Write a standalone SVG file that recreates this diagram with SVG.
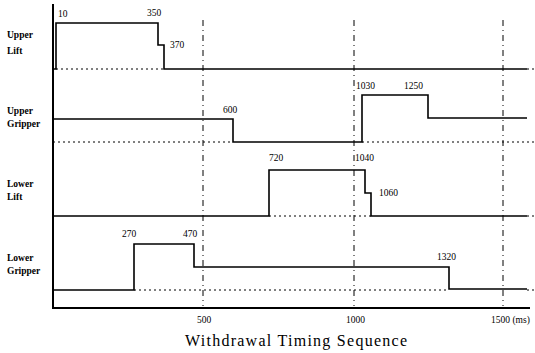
<svg xmlns="http://www.w3.org/2000/svg" width="535" height="353" viewBox="0 0 535 353">
<style>
.sig{fill:none;stroke:#000;stroke-width:1.6}
.base{fill:none;stroke:#000;stroke-width:1;stroke-dasharray:2 3}
.grid{fill:none;stroke:#000;stroke-width:1;stroke-dasharray:6 4 1 4}
.axis{fill:none;stroke:#000;stroke-width:2}
.lbl{font-family:"Liberation Serif",serif;font-size:9.5px;font-weight:bold;fill:#000}
.num{font-family:"Liberation Serif",serif;font-size:9.5px;fill:#000}
.title{font-family:"Liberation Serif",serif;font-size:16px;fill:#000}
</style>
<rect width="535" height="353" fill="#fff"/>
<g id="connectors">
<line class="grid" x1="203" y1="20" x2="203" y2="306"/>
<line class="grid" x1="354" y1="20" x2="354" y2="306"/>
<line class="grid" x1="503" y1="20" x2="503" y2="306"/>
<line class="axis" x1="53" y1="4" x2="53" y2="309"/>
<line class="axis" x1="53" y1="308" x2="530" y2="308"/>
</g>
<g id="upper-lift">
<text class="lbl" x="7" y="38">Upper</text>
<text class="lbl" x="7" y="54">Lift</text>
<line class="base" x1="56" y1="69" x2="164" y2="69"/>
<line class="base" x1="527" y1="69" x2="535" y2="69"/>
<polyline class="sig" points="53,69 56,69 56,23 158,23 158,45 164,45 164,69 527,69"/>
<text class="num" x="58" y="17">10</text>
<text class="num" x="147" y="16">350</text>
<text class="num" x="170" y="48">370</text>
</g>
<g id="upper-gripper">
<text class="lbl" x="7" y="114">Upper</text>
<text class="lbl" x="7" y="127">Gripper</text>
<line class="base" x1="53" y1="142" x2="233" y2="142"/>
<line class="base" x1="362" y1="142" x2="535" y2="142"/>
<polyline class="sig" points="53,119 233,119 233,142 362,142 362,95 428,95 428,118 527,118"/>
<text class="num" x="223" y="113">600</text>
<text class="num" x="356" y="89">1030</text>
<text class="num" x="404" y="89">1250</text>
</g>
<g id="lower-lift">
<text class="lbl" x="7" y="187">Lower</text>
<text class="lbl" x="7" y="200">Lift</text>
<line class="base" x1="269" y1="216" x2="371" y2="216"/>
<line class="base" x1="527" y1="216" x2="535" y2="216"/>
<polyline class="sig" points="53,216 269,216 269,170 365,170 365,193 371,193 371,216 527,216"/>
<text class="num" x="269" y="161">720</text>
<text class="num" x="355" y="161">1040</text>
<text class="num" x="379" y="196">1060</text>
</g>
<g id="lower-gripper">
<text class="lbl" x="7" y="261">Lower</text>
<text class="lbl" x="7" y="274">Gripper</text>
<line class="base" x1="134" y1="290" x2="449" y2="290"/>
<line class="base" x1="527" y1="290" x2="535" y2="290"/>
<polyline class="sig" points="53,290 134,290 134,244 194,244 194,267 449,267 449,289 527,289"/>
<text class="num" x="122" y="237">270</text>
<text class="num" x="183" y="237">470</text>
<text class="num" x="437" y="260">1320</text>
</g>
<g id="axis-labels">
<text class="num" x="197" y="323">500</text>
<text class="num" x="346" y="323">1000</text>
<text class="num" x="491" y="323">1500 (ms)</text>
<text class="title" x="185" y="346" textLength="222" lengthAdjust="spacing">Withdrawal Timing Sequence</text>
</g>
</svg>
